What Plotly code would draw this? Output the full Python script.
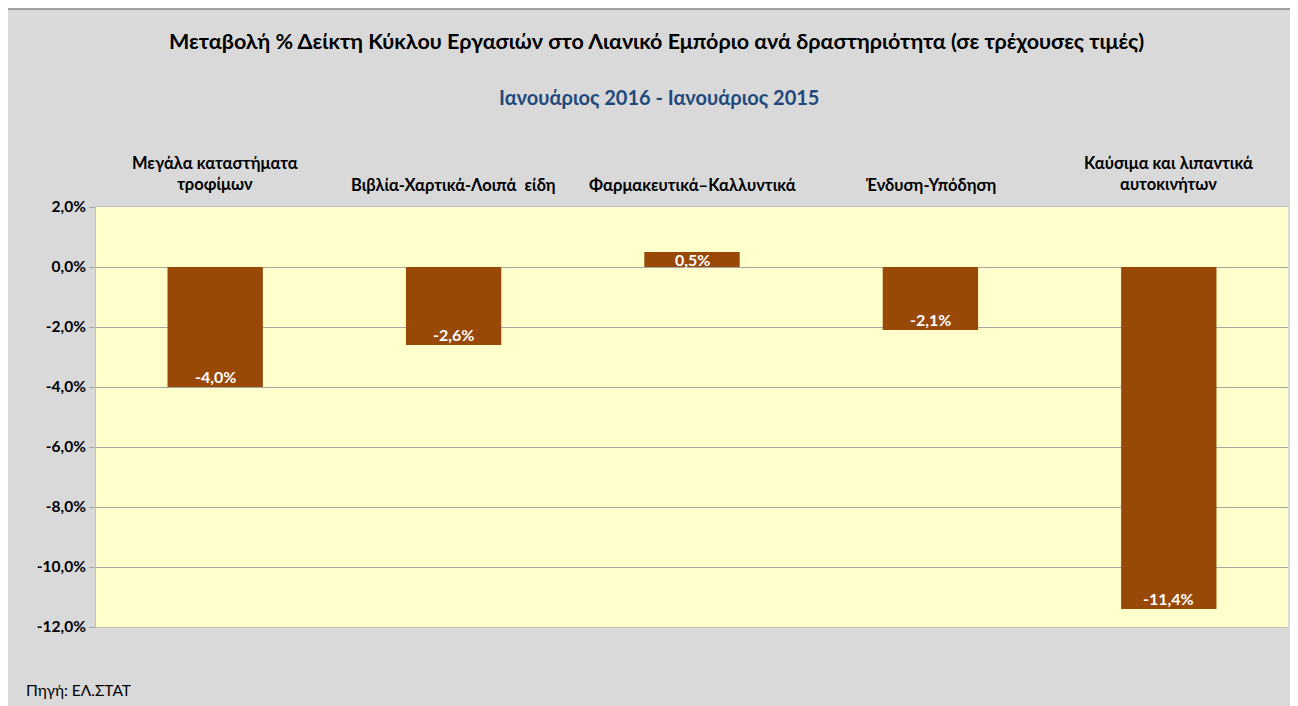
import plotly.graph_objects as go

categories = ["Μεγάλα καταστήματα<br>τροφίμων", "Βιβλία-Χαρτικά-Λοιπά  είδη",
              "Φαρμακευτικά–Καλλυντικά", "Ένδυση-Υπόδηση", "Καύσιμα και λιπαντικά<br>αυτοκινήτων"]
values = [-4.0, -2.6, 0.5, -2.1, -11.4]
labels = ["-4,0%", "-2,6%", "0,5%", "-2,1%", "-11,4%"]
tick_vals = [2, 0, -2, -4, -6, -8, -10, -12]
tick_text = ["2,0%", "0,0%", "-2,0%", "-4,0%", "-6,0%", "-8,0%", "-10,0%", "-12,0%"]

FONT = "Lato"
OFF = 8  # page body margin
W, H = 1298, 706
L = 96 - OFF
T = 207 - OFF
R = W - (1288 - OFF)
B = H - (627 - OFF)
pw, ph = W - L - R, H - T - B

def px_x(p):
    return (p - OFF - L) / pw

def px_y(p):
    return 1 - (p - OFF - T) / ph

fig = go.Figure()
fig.add_trace(go.Bar(
    x=list(range(len(categories))), y=values, width=0.4,
    marker=dict(color="#984807", line=dict(width=0)),
    hoverinfo="skip",
))

annotations = []
for i, (v, lab) in enumerate(zip(values, labels)):
    annotations.append(dict(
        x=i, y=v if v < 0 else v / 2, xref="x", yref="y",
        text=lab, showarrow=False, xanchor="center", yanchor="middle",
        yshift=11 if v < 0 else 0,
        font=dict(family=FONT, size=16, color="#ffffff", weight="bold"),
    ))
for i, c in enumerate(categories):
    annotations.append(dict(
        x=i, y=px_y(185 if "<br>" not in c else 173), xref="x", yref="paper",
        text=c, showarrow=False, xanchor="center", yanchor="middle",
        font=dict(family=FONT, size=16.5, color="#000000", weight="bold"),
    ))
annotations.append(dict(
    x=px_x(656), y=px_y(41), xref="paper", yref="paper",
    text="Μεταβολή % Δείκτη Κύκλου Εργασιών στο Λιανικό Εμπόριο ανά δραστηριότητα (σε τρέχουσες τιμές)",
    showarrow=False, xanchor="center", yanchor="middle",
    font=dict(family=FONT, size=21.5, color="#000000", weight="bold"),
))
annotations.append(dict(
    x=px_x(659), y=px_y(97), xref="paper", yref="paper",
    text="Ιανουάριος 2016 - Ιανουάριος 2015",
    showarrow=False, xanchor="center", yanchor="middle",
    font=dict(family=FONT, size=20, color="#1f497d", weight="bold"),
))
annotations.append(dict(
    x=px_x(24), y=px_y(690), xref="paper", yref="paper",
    text="Πηγή: ΕΛ.ΣΤΑΤ", showarrow=False, xanchor="left", yanchor="middle",
    font=dict(family=FONT, size=15.5, color="#000000"),
))

shapes = [
    dict(type="rect", xref="paper", yref="paper", layer="above",
         x0=px_x(7), x1=px_x(1320), y0=px_y(730), y1=px_y(9),
         fillcolor="rgba(0,0,0,0)", line=dict(color="#8c8c8c", width=1.5)),
]

fig.update_layout(
    width=W, height=H,
    margin=dict(l=L, r=R, t=T, b=B, pad=0),
    paper_bgcolor="#d9d9d9", plot_bgcolor="#ffffcc",
    showlegend=False,
    annotations=annotations, shapes=shapes,
    xaxis=dict(range=[-0.5, 4.5], showticklabels=False, showgrid=False, zeroline=False,
               showline=True, linecolor="#bfbfbf", linewidth=1, mirror=True, fixedrange=True),
    yaxis=dict(range=[-12, 2], tickvals=tick_vals, ticktext=tick_text,
               showgrid=True, gridcolor="#a6a6a6", gridwidth=1,
               zeroline=True, zerolinecolor="#a6a6a6", zerolinewidth=1,
               ticks="outside", ticklen=6, tickcolor="#a6a6a6",
               showline=True, linecolor="#bfbfbf", linewidth=1,
               tickfont=dict(family=FONT, size=15.5, color="#000000", weight="bold"),
               fixedrange=True),
)

fig.write_html("out.html")
